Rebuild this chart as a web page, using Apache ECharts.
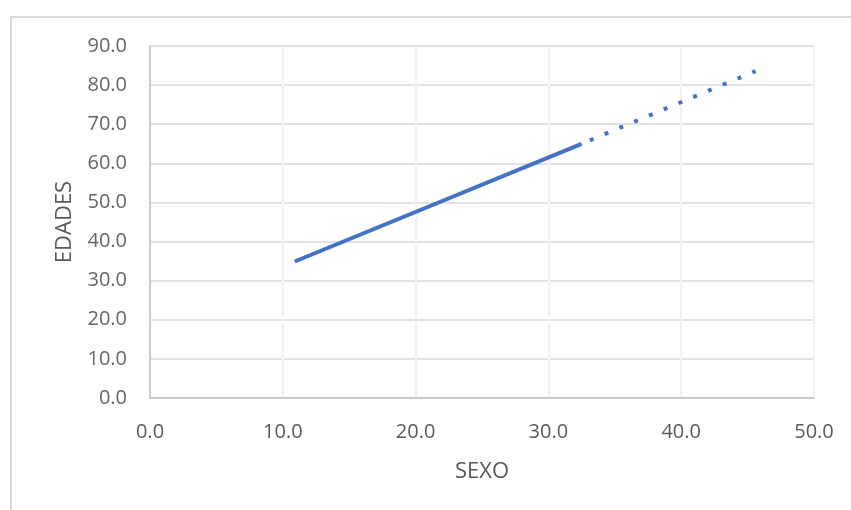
<!DOCTYPE html>
<html>
<head>
<meta charset="utf-8">
<script src="https://cdn.jsdelivr.net/npm/echarts@6/dist/echarts.min.js"></script>
<style>
  html, body { margin: 0; padding: 0; background: #ffffff; }
  #frame { position: absolute; left: 10px; top: 16px; width: 900px; height: 600px;
           border-left: 2px solid #d9d9d9; border-top: 2px solid #d9d9d9; box-sizing: border-box; }
  #chart { position: absolute; left: 0; top: 0; width: 851px; height: 510px; }
</style>
</head>
<body>
<div id="frame"></div>
<div id="chart"></div>
<script>
// Observed relation between SEXO and EDADES
const sexoObserved = [10.9, 32.5];
const edadesObserved = [34.9, 65.0];
// Projected continuation (dotted)
const sexoProjected = [32.5, 45.6];
const edadesProjected = [65.0, 83.6];

const xTicks = { min: 0, max: 50, interval: 10 };
const yTicks = { min: 0, max: 90, interval: 10 };

const pairs = (xs, ys) => xs.map((x, i) => [x, ys[i]]);

const chart = echarts.init(document.getElementById('chart'), null, { renderer: 'canvas' });
chart.setOption({
  backgroundColor: 'transparent',
  animation: false,
  grid: { left: 150, top: 46, right: 37, bottom: 112, containLabel: false },
  xAxis: {
    type: 'value',
    min: xTicks.min, max: xTicks.max, interval: xTicks.interval,
    name: 'SEXO', nameLocation: 'middle', nameGap: 63,
    nameTextStyle: { color: '#595959', fontSize: 22, fontFamily: 'Open Sans' },
    axisLine: { show: true, lineStyle: { color: '#bfbfbf', width: 1.5 } },
    axisTick: { show: false },
    axisLabel: { color: '#595959', fontSize: 20, fontFamily: 'Open Sans', margin: 24,
                 formatter: v => v.toFixed(1) },
    splitLine: { show: true, lineStyle: { color: '#eef2f8', width: 2 } }
  },
  yAxis: {
    type: 'value',
    min: yTicks.min, max: yTicks.max, interval: yTicks.interval,
    name: 'EDADES', nameLocation: 'middle', nameGap: 74, nameRotate: 90,
    nameTextStyle: { color: '#595959', fontSize: 22, fontFamily: 'Open Sans' },
    axisLine: { show: true, lineStyle: { color: '#bfbfbf', width: 1.5 } },
    axisTick: { show: false },
    axisLabel: { color: '#666666', fontSize: 20, fontFamily: 'Open Sans', margin: 23,
                 formatter: v => v.toFixed(1) },
    splitLine: { show: true, lineStyle: { color: '#d9d9d9', width: 1.5 } }
  },
  series: [
    {
      type: 'line',
      data: pairs(sexoObserved, edadesObserved),
      symbol: 'none',
      lineStyle: { color: '#4472c4', width: 4, cap: 'butt' }
    },
    {
      type: 'line',
      data: pairs(sexoProjected, edadesProjected),
      symbol: 'none',
      lineStyle: { color: '#4472c4', width: 4, type: [4, 12], dashOffset: 7, cap: 'butt' }
    }
  ]
});
</script>
</body>
</html>
